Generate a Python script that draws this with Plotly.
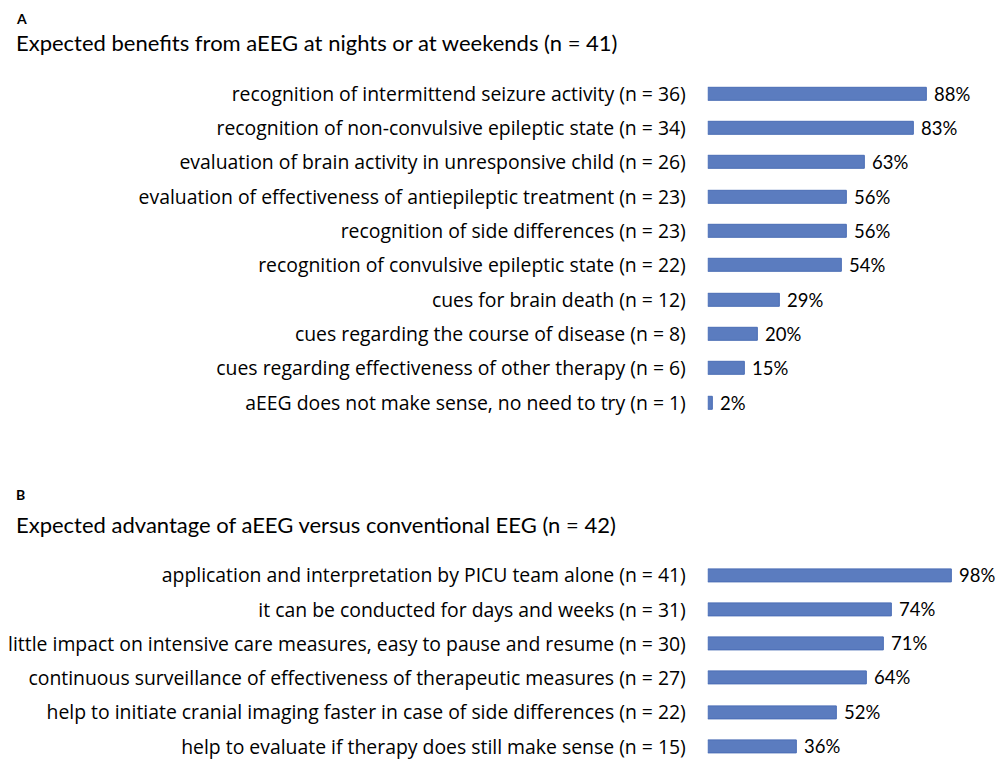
import plotly.graph_objects as go

# Datos panel A
categorias_a = [
    "recognition of intermittend seizure activity (n = 36)",
    "recognition of non-convulsive epileptic state (n = 34)",
    "evaluation of brain activity in unresponsive child (n = 26)",
    "evaluation of effectiveness of antiepileptic treatment (n = 23)",
    "recognition of side differences (n = 23)",
    "recognition of convulsive epileptic state (n = 22)",
    "cues for brain death (n = 12)",
    "cues regarding the course of disease (n = 8)",
    "cues regarding effectiveness of other therapy (n = 6)",
    "aEEG does not make sense, no need to try (n = 1)",
]
valores_a = [88, 83, 63, 56, 56, 54, 29, 20, 15, 2]

# Datos panel B
categorias_b = [
    "application and interpretation by PICU team alone (n = 41)",
    "it can be conducted for days and weeks (n = 31)",
    "little impact on intensive care measures, easy to pause and resume (n = 30)",
    "continuous surveillance of effectiveness of therapeutic measures (n = 27)",
    "help to initiate cranial imaging faster in case of side differences (n = 22)",
    "help to evaluate if therapy does still make sense (n = 15)",
]
valores_b = [98, 74, 71, 64, 52, 36]

titulo_a = "Expected benefits from aEEG at nights or at weekends (n = 41)"
titulo_b = "Expected advantage of aEEG versus conventional EEG (n = 42)"

FUENTE = "Lato"
FUENTE_EJE = "Open Sans"
AZUL = "#5B7CBF"
BORDE = "#4A6DB5"

# La pagina tiene 8 px de margen, todas las posiciones van corridas
H = 762

fig = go.Figure()

for valores, categorias, ejex, ejey in [(valores_a, categorias_a, 'x', 'y'),
                                        (valores_b, categorias_b, 'x2', 'y2')]:
    fig.add_trace(go.Bar(
        x = valores,
        y = categorias,
        orientation = 'h',
        text = ["\u00a0" + str(v) + "%" for v in valores],
        textposition = 'outside',
        constraintext = 'none',
        cliponaxis = False,
        width = 0.38,
        marker = dict(color=AZUL, line=dict(color=BORDE, width=1)),
        textfont = dict(family=FUENTE, size=18.5, color='black'),
        xaxis = ejex, yaxis = ejey,
        showlegend = False
    ))

x_dom = [698 / 1005, 948 / 1005]
eje_x = dict(range=[0, 100], visible=False, fixedrange=True)
eje_y = dict(
    showgrid=False, zeroline=False, showline=False, ticks='',
    ticklabelstandoff=21,
    tickfont=dict(family=FUENTE_EJE, size=19.4, color='black'),
)

fig.update_layout(
    width = 1005,
    height = H,
    margin = dict(l=0, r=0, t=0, b=0),
    paper_bgcolor = 'white',
    plot_bgcolor = 'white',
    font = dict(family=FUENTE, color='black'),
    bargap = 0,
    xaxis = dict(domain=x_dom, anchor='y', **eje_x),
    yaxis = dict(domain=[1 - 412.2 / H, 1 - 68.8 / H], anchor='x',
                 range=[len(categorias_a) - 0.5, -0.5],
                 categoryorder='array', categoryarray=categorias_a, **eje_y),
    xaxis2 = dict(domain=x_dom, anchor='y2', **eje_x),
    yaxis2 = dict(domain=[1 - 754 / H, 1 - 550.4 / H], anchor='x2',
                  range=[5.44, -0.5],
                  categoryorder='array', categoryarray=categorias_b, **eje_y),
)

# Etiquetas de panel y titulos
for letra, y_px in [("A", 0), ("B", 476)]:
    fig.add_annotation(
        text = "<b>" + letra + "</b>",
        x = 0, y = 1 - y_px / H,
        xref = 'paper', yref = 'paper',
        xanchor = 'left', yanchor = 'top',
        showarrow = False,
        font = dict(family=FUENTE, size=14, color='black')
    )

for titulo, y_px in [(titulo_a, 35), (titulo_b, 516)]:
    fig.add_annotation(
        text = titulo,
        x = 0, y = 1 - y_px / H,
        xref = 'paper', yref = 'paper',
        xanchor = 'left', yanchor = 'middle',
        showarrow = False,
        font = dict(family=FUENTE, size=22, color='black')
    )

fig.write_html("out.html")
